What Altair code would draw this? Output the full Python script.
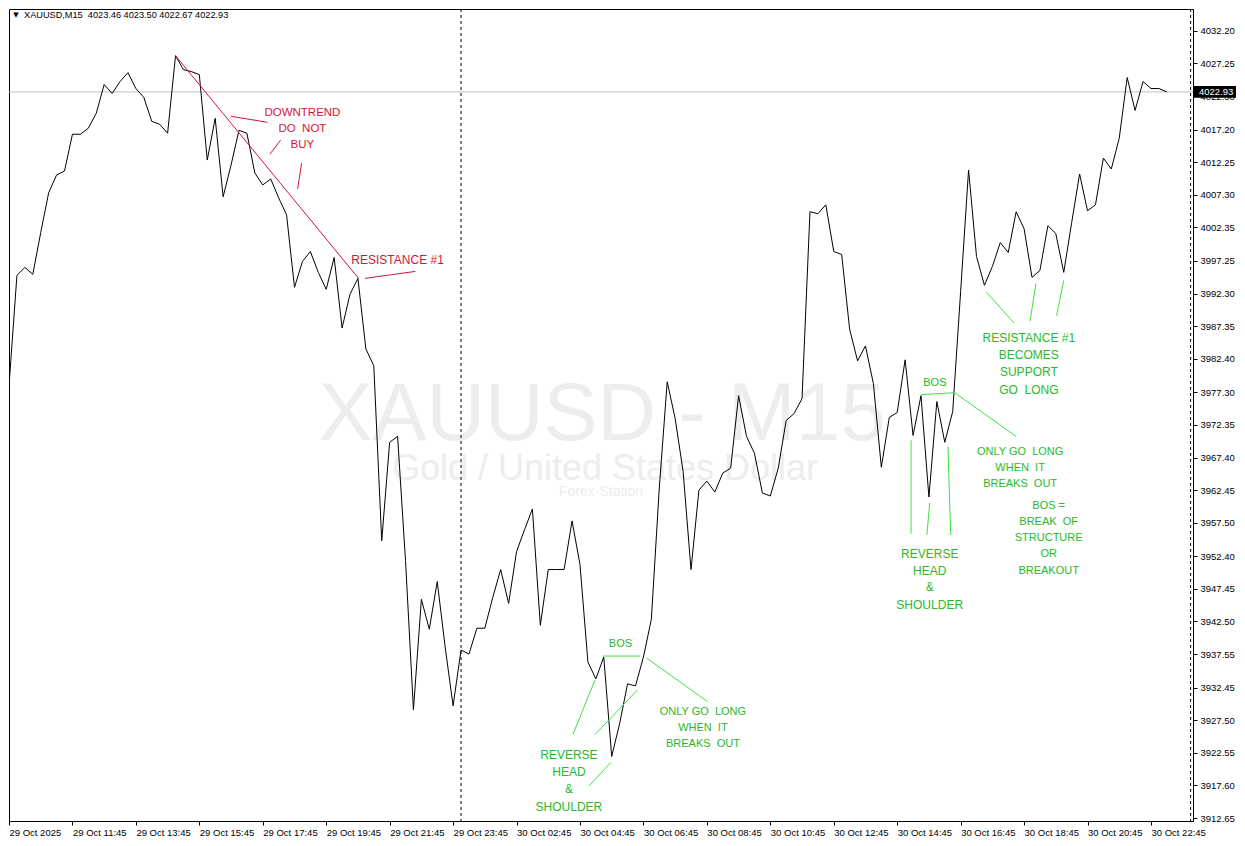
import altair as alt
import pandas as pd

# ---------------- data ----------------
prices = [
    3978.31, 3995.07, 3996.27, 3995.22, 4001.56, 4007.60, 4010.31, 4010.92, 4016.50, 4016.50,
    4017.41, 4019.67, 4024.05, 4022.69, 4024.50, 4025.86, 4023.44, 4022.09, 4018.46, 4018.01,
    4016.65, 4028.43, 4026.31, 4026.01, 4025.56, 4012.58, 4018.92, 4006.99, 4011.82, 4017.10,
    4016.65, 4010.61, 4008.80, 4009.71, 4006.84, 4004.27, 3993.25, 3997.18, 3998.69, 3995.52,
    3992.95, 3997.78, 3987.07, 3992.20, 3994.61, 3983.90, 3981.33, 3954.76, 3969.71, 3970.61,
    3951.74, 3929.10, 3945.86, 3941.33, 3948.57, 3938.61, 3929.70, 3938.16, 3937.55, 3941.48,
    3941.48, 3946.16, 3950.39, 3945.25, 3953.10, 3956.42, 3959.59, 3941.93, 3950.39, 3950.39,
    3950.39, 3957.78, 3951.14, 3936.35, 3933.78, 3937.10, 3922.01, 3926.99, 3933.03, 3932.72,
    3937.10, 3942.84, 3962.76, 3978.91, 3973.33, 3965.33, 3950.39, 3962.46, 3963.82, 3962.16,
    3965.03, 3965.78, 3976.80, 3970.61, 3968.05, 3962.01, 3961.56, 3965.78, 3973.03, 3974.08,
    3976.35, 4004.73, 4004.43, 4005.78, 3998.69, 3998.24, 3986.91, 3982.08, 3984.35, 3978.61,
    3965.93, 3973.48, 3974.24, 3982.24, 3970.76, 3976.80, 3961.40, 3975.90, 3969.71, 3974.39,
    3992.65, 4011.07, 3997.93, 3993.56, 3996.42, 4000.05, 3998.54, 4004.73, 4002.16, 3994.76,
    3995.82, 4002.61, 4001.41, 3995.52, 4003.07, 4010.46, 4004.88, 4005.78, 4012.88, 4011.22,
    4015.90, 4025.11, 4020.12, 4024.50, 4023.44, 4023.44, 4022.93,
]
x_tick_index = [0, 8, 16, 24, 32, 40, 48, 56, 64, 72, 80, 88, 96, 104, 112, 120, 128, 136, 144]
x_tick_labels = [
    "29 Oct 2025", "29 Oct 11:45", "29 Oct 13:45", "29 Oct 15:45", "29 Oct 17:45",
    "29 Oct 19:45", "29 Oct 21:45", "29 Oct 23:45", "30 Oct 02:45", "30 Oct 04:45",
    "30 Oct 06:45", "30 Oct 08:45", "30 Oct 10:45", "30 Oct 12:45", "30 Oct 14:45",
    "30 Oct 16:45", "30 Oct 18:45", "30 Oct 20:45", "30 Oct 22:45",
]
y_ticks = [4032.20, 4027.25, 4022.30, 4017.20, 4012.25, 4007.30, 4002.35, 3997.25, 3992.30,
           3987.35, 3982.40, 3977.30, 3972.35, 3967.40, 3962.45, 3957.50, 3952.40, 3947.45,
           3942.50, 3937.55, 3932.45, 3927.50, 3922.55, 3917.60, 3912.65]
separators = [57, 149]
last_price = 4022.93
header_text = "XAUUSD,M15  4023.46 4023.50 4022.67 4022.93"

# annotation segments: [bar index, price, bar index 2, price 2]
red_segments = [
    [21, 4028.43, 44.08, 3994.61],
    [28, 4019.22, 32.6, 4018.31],
    [32.9, 4013.48, 34.25, 4015.60],
    [36.9, 4012.12, 36.4, 4008.20],
    [44.9, 3994.61, 51.25, 3995.67],
]
green_segments = [
    [74.9, 3937.25, 79.6, 3937.25],
    [80.4, 3936.95, 88.1, 3930.31],
    [73.9, 3933.63, 71.1, 3925.33],
    [79.25, 3932.12, 73.9, 3925.33],
    [75.9, 3921.10, 73.1, 3917.48],
    [115.0, 3976.95, 119.25, 3977.25],
    [119.25, 3977.25, 127.0, 3970.61],
    [113.75, 3970.01, 113.75, 3955.82],
    [116.1, 3960.50, 115.75, 3955.67],
    [118.4, 3969.10, 118.75, 3955.67],
    [123.25, 3992.50, 126.75, 3987.82],
    [129.5, 3993.86, 128.75, 3988.12],
    [133.0, 3994.31, 132.1, 3988.95],
]
# annotation texts: [bar index, price, text, font size]
red_texts = [
    [37.0, 4019.67, "DOWNTREND", 11.5],
    [37.0, 4017.26, "DO  NOT", 11.5],
    [37.0, 4014.84, "BUY", 11.5],
    [49.0, 3997.33, "RESISTANCE #1", 12],
]
green_texts = [
    [77.1, 3939.06, "BOS", 11],
    [87.5, 3928.80, "ONLY GO  LONG", 11],
    [87.5, 3926.38, "WHEN  IT", 11],
    [87.5, 3923.97, "BREAKS  OUT", 11],
    [70.6, 3922.16, "REVERSE", 12],
    [70.6, 3919.59, "HEAD", 12],
    [70.6, 3917.03, "&", 12],
    [70.6, 3914.31, "SHOULDER", 12],
    [116.75, 3978.76, "BOS", 11],
    [127.5, 3968.20, "ONLY GO  LONG", 11],
    [127.5, 3965.78, "WHEN  IT", 11],
    [127.5, 3963.37, "BREAKS  OUT", 11],
    [131.1, 3960.05, "BOS =", 11],
    [131.1, 3957.63, "BREAK  OF", 11],
    [131.1, 3955.22, "STRUCTURE", 11],
    [131.1, 3952.80, "OR", 11],
    [131.1, 3950.24, "BREAKOUT", 11],
    [116.1, 3952.80, "REVERSE", 12],
    [116.1, 3950.23, "HEAD", 12],
    [116.1, 3947.67, "&", 12],
    [116.1, 3944.95, "SHOULDER", 12],
    [128.6, 3985.56, "RESISTANCE #1", 12],
    [128.6, 3982.99, "BECOMES", 12],
    [128.6, 3980.42, "SUPPORT", 12],
    [128.6, 3977.71, "GO  LONG", 12],
]

# ---------------- styling ----------------
FONT = "Liberation Sans"
RED = "#d3143a"
GREEN_LINE = "#3fe23f"
GREEN_TEXT = "#27b927"
WATER = "#ededed"

xs = alt.Scale(domain=[0, 149.3], nice=False, zero=False)
ys = alt.Scale(domain=[3912.2, 4035.52], nice=False, zero=False)

label_array = "[" + ",".join("'" + s + "'" for s in x_tick_labels) + "]"
xax = alt.Axis(values=x_tick_index, labelExpr=label_array + "[round(datum.value/8)]",
               labelAlign="left", labelBaseline="top", labelPadding=2, tickSize=4,
               tickColor="black", domainColor="black", labelColor="black",
               labelFont=FONT, labelFontSize=9.5, grid=False, labelOverlap=False,
               labelFlush=False, title=None)
yax = alt.Axis(orient="right", values=y_ticks, format=".2f", labelAlign="left",
               labelBaseline="middle", labelPadding=3, tickSize=4, tickColor="black",
               domainColor="black", labelColor="black", labelFont=FONT, labelFontSize=9.5,
               grid=False, labelOverlap=False, labelFlush=False, title=None)


def X(f):
    return alt.X(f + ":Q", scale=xs, axis=xax, title=None)


def Y(f):
    return alt.Y(f + ":Q", scale=ys, axis=yax, title=None)


def nb(s):
    return s.replace("  ", "\u00a0 ")


price_df = pd.DataFrame({"i": list(range(len(prices))), "p": prices})
one = pd.DataFrame({"k": [0]})

# watermark
wm_big = alt.Chart(one).mark_text(font=FONT, fontSize=81, color=WATER, align="center",
                                  baseline="middle", text="XAUUSD - M15").encode(
    x=alt.value(593), y=alt.value(407))
wm_mid = alt.Chart(one).mark_text(font=FONT, fontSize=36, color=WATER, align="center",
                                  baseline="middle", text="Gold / United States Dollar").encode(
    x=alt.value(596), y=alt.value(460))
wm_small = alt.Chart(one).mark_text(font=FONT, fontSize=14, color=WATER, align="center",
                                    baseline="middle", text="Forex-Station").encode(
    x=alt.value(592), y=alt.value(483))

sep_df = pd.DataFrame({"i": separators})
sep = alt.Chart(sep_df).mark_rule(color="black", strokeWidth=1, strokeDash=[3, 3]).encode(x=X("i"))

last_rule = alt.Chart(pd.DataFrame({"p": [last_price]})).mark_rule(
    color="#c0c0c0", strokeWidth=1).encode(y=Y("p"))

line = alt.Chart(price_df).mark_line(color="black", strokeWidth=1, clip=True).encode(
    x=X("i"), y=Y("p"))

seg_rows = []
for s in red_segments:
    seg_rows.append({"i": s[0], "p": s[1], "i2": s[2], "p2": s[3], "c": RED})
for s in green_segments:
    seg_rows.append({"i": s[0], "p": s[1], "i2": s[2], "p2": s[3], "c": GREEN_LINE})
segs = alt.Chart(pd.DataFrame(seg_rows)).mark_rule(strokeWidth=1).encode(
    x=X("i"), y=Y("p"), x2="i2:Q", y2="p2:Q", color=alt.Color("c:N", scale=None))

txt_rows = []
for t in red_texts:
    txt_rows.append({"i": t[0], "p": t[1], "t": nb(t[2]), "s": t[3], "c": RED})
for t in green_texts:
    txt_rows.append({"i": t[0], "p": t[1], "t": nb(t[2]), "s": t[3], "c": GREEN_TEXT})
texts = alt.Chart(pd.DataFrame(txt_rows)).mark_text(font=FONT, align="center",
                                                    baseline="middle").encode(
    x=X("i"), y=Y("p"), text="t:N", size=alt.Size("s:Q", scale=None),
    color=alt.Color("c:N", scale=None))

# header
tri = alt.Chart(one).mark_text(font="DejaVu Sans", fontSize=7, color="black", align="center",
                               baseline="middle", text="\u25bc").encode(
    x=alt.value(7), y=alt.value(6))
header = alt.Chart(one).mark_text(font=FONT, fontSize=9.2, color="black", align="left",
                                  baseline="middle", text=nb(header_text)).encode(
    x=alt.value(15), y=alt.value(6))

# current price box on the right axis
box = alt.Chart(pd.DataFrame({"p": [last_price + 0.9], "p2": [last_price - 0.9]})).mark_rect(
    color="black").encode(x=alt.value(1185), x2=alt.value(1227), y=Y("p"), y2="p2:Q")
box_text = alt.Chart(pd.DataFrame({"p": [last_price], "t": [f"{last_price:.2f}"]})).mark_text(
    font=FONT, fontSize=9.5, color="white", align="left", baseline="middle").encode(
    x=alt.value(1190), y=Y("p"), text="t:N")

chart = alt.layer(
    wm_big, wm_mid, wm_small, last_rule, sep, line, segs, texts, tri, header, box, box_text
).properties(
    width=1184, height=812, padding=0, background="white"
).configure_view(stroke="black", strokeWidth=1)

chart.save("out.html", embed_options={"renderer": "svg", "actions": False})
